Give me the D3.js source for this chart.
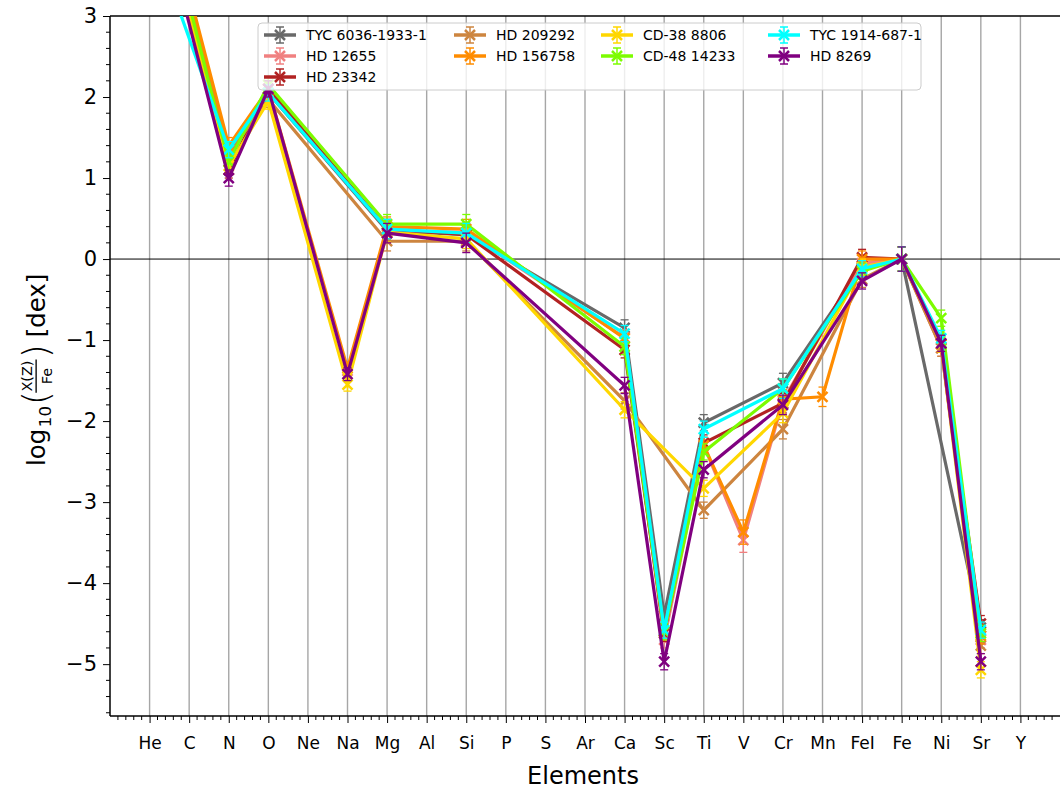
<!DOCTYPE html>
<html><head><meta charset="utf-8">
<script src="https://cdn.jsdelivr.net/npm/d3@7"></script>
<style>
body{margin:0;background:#fff}
svg{display:block}
text{font-family:"DejaVu Sans",sans-serif;fill:#000}
</style>
</head><body>
<svg id="chart" width="1060" height="794"></svg>
<script>
// Element abundance patterns, log10 of number ratio X(Z)/Fe
const elements = ["He","C","N","O","Ne","Na","Mg","Al","Si","P","S","Ar","Ca","Sc","Ti","V","Cr","Mn","FeI","Fe","Ni","Sr","Y"];
const yTicks = [-5,-4,-3,-2,-1,0,1,2,3];

const starNames = ["TYC 6036-1933-1","HD 12655","HD 23342","HD 209292","HD 156758","CD-38 8806","CD-48 14233","TYC 1914-687-1","HD 8269"];
const starColors = ["#696969","#f08080","#b22222","#cd853f","#ff8c00","#ffd700","#7cfc00","#00ffff","#800080"];

// one value per element (null = not measured)
//                He    C    N     O    Ne   Na     Mg    Al   Si    P    S    Ar   Ca     Sc     Ti     V      Cr     Mn     FeI    Fe   Ni     Sr     Y
const tyc6036  = [5.10,null,1.30,2.05,null,null ,0.35,null,0.30,null,null,null,-0.85,-4.40,-2.02,null ,-1.53,null ,-0.10,0.00,null ,-4.55,null];
const hd12655  = [5.00,null,1.30,2.05,null,-1.38,0.35,null,0.33,null,null,null,-0.97,-4.70,-2.30,-3.47,-1.75,null ,-0.05,0.00,-1.10,-4.70,null];
const hd23342  = [5.10,null,1.10,2.10,null,null ,0.37,null,0.30,null,null,null,-1.12,-4.62,-2.27,null ,-1.78,null , 0.02,0.00,-1.05,-4.50,null];
const hd209292 = [5.00,null,1.30,1.97,null,null ,0.22,null,0.22,null,null,null,-1.75,null ,-3.10,null ,-2.10,null ,-0.25,0.00,-1.10,-4.77,null];
const hd156758 = [5.18,null,1.40,2.10,null,-1.35,0.40,null,0.37,null,null,null,-0.98,-4.60,-2.30,-3.37,-1.73,-1.70, 0.00,0.00,-1.05,-4.65,null];
const cd388806 = [4.90,null,1.15,1.95,null,-1.55,0.33,null,0.25,null,null,null,-1.86,null ,-2.83,null ,-1.90,null ,-0.10,0.00,-1.05,-5.07,null];
const cd4814233= [5.09,null,1.20,2.15,null,null ,0.43,null,0.43,null,null,null,-1.08,-4.60,-2.38,null ,-1.60,null ,-0.15,0.00,-0.73,-4.62,null];
const tyc1914  = [4.10,null,1.35,2.05,null,null ,0.37,null,0.32,null,null,null,-0.92,-4.58,-2.10,null ,-1.60,null ,-0.12,0.00,-0.98,-4.58,null];
const hd8269   = [4.81,null,1.00,2.10,null,-1.42,0.32,null,0.20,null,null,null,-1.56,-4.97,-2.60,null ,-1.80,null ,-0.27,0.00,-1.04,-4.97,null];

// typical 1-sigma uncertainty per element
const errors   = [0.10,null,0.10,0.10,null,0.08 ,0.12,null,0.12,null,null,null,0.10 ,0.10 ,0.10 ,0.15 ,0.12 ,0.12 ,0.10 ,0.15,0.10 ,0.10 ,null];

const starValues = [tyc6036,hd12655,hd23342,hd209292,hd156758,cd388806,cd4814233,tyc1914,hd8269];

const series = starNames.map((name,i)=>({
  name, color: starColors[i],
  points: starValues[i].map((v,k)=>({k, v, e: errors[k]})).filter(d=>d.v!==null)
}));

const plot = {left:110, right:1060, top:16, bottom:716};

const svg = d3.select("#chart");
const x = d3.scaleLinear().domain([-1, 23]).range([plot.left, plot.right]);
const y = d3.scaleLinear().domain([-5.64, 3]).range([plot.bottom, plot.top]);

svg.append("defs").append("clipPath").attr("id","clip")
  .append("rect").attr("x",plot.left).attr("y",plot.top)
  .attr("width",plot.right-plot.left).attr("height",plot.bottom-plot.top);

// vertical grid at each element
svg.append("g").selectAll("line").data(elements).join("line")
  .attr("x1",(d,i)=>x(i)).attr("x2",(d,i)=>x(i))
  .attr("y1",plot.top).attr("y2",plot.bottom)
  .attr("stroke","#a6a6a6").attr("stroke-width",1.4);

// zero reference line
svg.append("line").attr("x1",plot.left).attr("x2",plot.right)
  .attr("y1",y(0)).attr("y2",y(0)).attr("stroke","#000").attr("stroke-width",1);

const fmt = d => d < 0 ? "\u2212" + Math.abs(d) : String(d);

// y axis
const yAxis = svg.append("g").attr("transform",`translate(${plot.left},0)`)
  .call(d3.axisLeft(y).tickValues(yTicks).tickFormat(fmt).tickSize(7).tickPadding(6));
yAxis.selectAll("text").attr("font-size",21).attr("font-family","DejaVu Sans");
yAxis.select(".domain").remove();
const yMinor = d3.range(-28, 16).map(d=>d*0.2).filter(v=>Math.abs(v-Math.round(v))>1e-6);
svg.append("g").selectAll("line").data(yMinor).join("line")
  .attr("x1",plot.left-4).attr("x2",plot.left).attr("y1",d=>y(d)).attr("y2",d=>y(d))
  .attr("stroke","#000").attr("stroke-width",1);

// x axis
const xAxis = svg.append("g").attr("transform",`translate(0,${plot.bottom})`)
  .call(d3.axisBottom(x).tickValues(d3.range(elements.length)).tickFormat(i=>elements[i]).tickSize(7).tickPadding(14));
xAxis.selectAll("text").attr("font-size",17).attr("font-family","DejaVu Sans");
xAxis.select(".domain").remove();
const xMinor = d3.range(-5, 116).map(d=>d*0.2).filter(v=>Math.abs(v-Math.round(v))>1e-6);
svg.append("g").selectAll("line").data(xMinor).join("line")
  .attr("x1",d=>x(d)).attr("x2",d=>x(d)).attr("y1",plot.bottom).attr("y2",plot.bottom+4)
  .attr("stroke","#000").attr("stroke-width",1);

// spines
svg.append("line").attr("x1",plot.left).attr("x2",plot.left).attr("y1",plot.top).attr("y2",plot.bottom)
  .attr("stroke","#000").attr("stroke-width",1.5);
svg.append("line").attr("x1",plot.left).attr("x2",plot.right).attr("y1",plot.bottom).attr("y2",plot.bottom)
  .attr("stroke","#000").attr("stroke-width",1.5);
svg.append("line").attr("x1",plot.left).attr("x2",plot.right).attr("y1",plot.top).attr("y2",plot.top)
  .attr("stroke","#000").attr("stroke-width",1.5);

// series
const line = d3.line().x(d=>x(d.k)).y(d=>y(d.v));
const marks = svg.append("g").attr("clip-path","url(#clip)");
series.forEach(s=>{
  const g = marks.append("g");
  g.append("path").datum(s.points).attr("d",line)
    .attr("fill","none").attr("stroke",s.color).attr("stroke-width",3.2).attr("stroke-linejoin","miter");
  const eb = g.selectAll(".eb").data(s.points.filter(d=>d.e)).join("g");
  eb.append("line").attr("x1",d=>x(d.k)).attr("x2",d=>x(d.k))
    .attr("y1",d=>y(d.v-d.e)).attr("y2",d=>y(d.v+d.e))
    .attr("stroke",s.color).attr("stroke-width",1.3);
  [-1,1].forEach(sg=>{
    eb.append("line").attr("x1",d=>x(d.k)-4).attr("x2",d=>x(d.k)+4)
      .attr("y1",d=>y(d.v+sg*d.e)).attr("y2",d=>y(d.v+sg*d.e))
      .attr("stroke",s.color).attr("stroke-width",1.3);
  });
  g.selectAll(".mk").data(s.points).join("path")
    .attr("d",d=>{const cx=x(d.k), cy=y(d.v), r=5;
      return `M${cx-r},${cy-r}L${cx+r},${cy+r}M${cx-r},${cy+r}L${cx+r},${cy-r}`;})
    .attr("stroke",s.color).attr("stroke-width",2.5).attr("fill","none");
});

// axis titles
svg.append("text").attr("x",(plot.left+plot.right)/2-2).attr("y",784)
  .attr("text-anchor","middle").attr("font-size",24).text("Elements");

const yl = svg.append("g").attr("transform","translate(45,466) rotate(-90) scale(1.11)");
yl.append("text").attr("x",0).attr("y",0).attr("font-size",22).text("log");
yl.append("text").attr("x",35).attr("y",5).attr("font-size",15).text("10");
yl.append("text").attr("x",55).attr("y",3).attr("font-size",32).attr("font-weight",200).text("(");
yl.append("text").attr("x",81).attr("y",-12).attr("text-anchor","middle").attr("font-size",13).text("X(Z)");
yl.append("line").attr("x1",66).attr("x2",96).attr("y1",-8).attr("y2",-8).attr("stroke","#000").attr("stroke-width",1.2);
yl.append("text").attr("x",81).attr("y",6).attr("text-anchor","middle").attr("font-size",13).text("Fe");
yl.append("text").attr("x",97).attr("y",3).attr("font-size",32).attr("font-weight",200).text(")");
yl.append("text").attr("x",116).attr("y",0).attr("font-size",22).text("[dex]");

// legend
const lg = svg.append("g");
lg.append("rect").attr("x",258).attr("y",23).attr("width",663).attr("height",67).attr("rx",4)
  .attr("fill","#fff").attr("fill-opacity",0.8).attr("stroke","#cccccc").attr("stroke-width",1);
const colX = [264, 454, 601, 768];
const rowY = [35, 56, 77];
const perCol = [3,2,2,2];
let idx = 0;
perCol.forEach((n,c)=>{
  for(let r=0;r<n;r++,idx++){
    const s = series[idx], hx = colX[c], hy = rowY[r];
    const it = lg.append("g");
    it.append("line").attr("x1",hx).attr("x2",hx+32).attr("y1",hy).attr("y2",hy)
      .attr("stroke",s.color).attr("stroke-width",3.5);
    const mx = hx+16;
    it.append("line").attr("x1",mx).attr("x2",mx).attr("y1",hy-8).attr("y2",hy+8).attr("stroke",s.color).attr("stroke-width",1.5);
    [-8,8].forEach(o=>it.append("line").attr("x1",mx-4).attr("x2",mx+4).attr("y1",hy+o).attr("y2",hy+o).attr("stroke",s.color).attr("stroke-width",1.5));
    it.append("path").attr("d",`M${mx-5},${hy-5}L${mx+5},${hy+5}M${mx-5},${hy+5}L${mx+5},${hy-5}`)
      .attr("stroke",s.color).attr("stroke-width",2.5);
    it.append("text").attr("x",hx+42).attr("y",hy+5).attr("font-size",14).text(s.name);
  }
});
</script>
</body></html>
